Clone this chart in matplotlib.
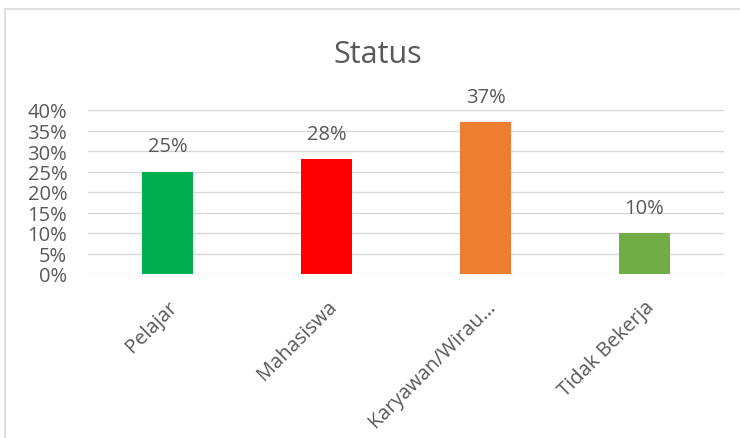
import matplotlib
matplotlib.use("Agg")
import matplotlib.pyplot as plt
from matplotlib.patches import Rectangle
from matplotlib.ticker import PercentFormatter

categories = ["Pelajar", "Mahasiswa", "Karyawan/Wirau…", "Tidak Bekerja"]
values = [25, 28, 37, 10]
colors = ["#00B050", "#FF0000", "#ED7D31", "#70AD47"]
yticks = [0, 5, 10, 15, 20, 25, 30, 35, 40]

plt.rcParams['font.family'] = ['Open Sans', 'DejaVu Sans']
W, H = 740, 439
fig = plt.figure(figsize=(W/100, H/100), dpi=100)
fig.patches.append(Rectangle((5/W, -0.1), 1.2, (H-10)/H + 0.1, transform=fig.transFigure,
                             fill=False, edgecolor="#D9D9D9", linewidth=1.2))

ax = fig.add_axes([88/W, 1-275/H, (724-88)/W, (275-111)/H])
x = range(len(categories))
ax.bar(x, values, width=0.315, color=colors, zorder=3)
ax.set_xlim(-0.5, len(categories)-0.5)
ax.set_ylim(0, 40)
ax.set_yticks(yticks)
ax.yaxis.set_major_formatter(PercentFormatter(decimals=0))
ax.grid(axis='y', color="#D9D9D9", linewidth=1, zorder=0)
for s in ax.spines.values():
    s.set_visible(False)
ax.tick_params(axis='both', length=0, labelsize=14.5, labelcolor="#595959")
ax.tick_params(axis='y', pad=15)
ax.set_xticks(list(x))
ax.set_xticklabels(categories, rotation=45, ha='right', rotation_mode='anchor')
ax.tick_params(axis='x', pad=16)
for lbl in ax.get_xticklabels():
    lbl.set_x(lbl.get_position()[0])
for i, v in enumerate(values):
    ax.annotate(f"{v}%", (i, v), xytext=(0, 11), textcoords='offset points',
                ha='center', va='bottom', fontsize=14.5, color="#595959")
fig.text(378/W, 1-55/H, "Status", ha='center', va='center', fontsize=22, color="#595959")
fig.savefig("out.png", dpi=100)
